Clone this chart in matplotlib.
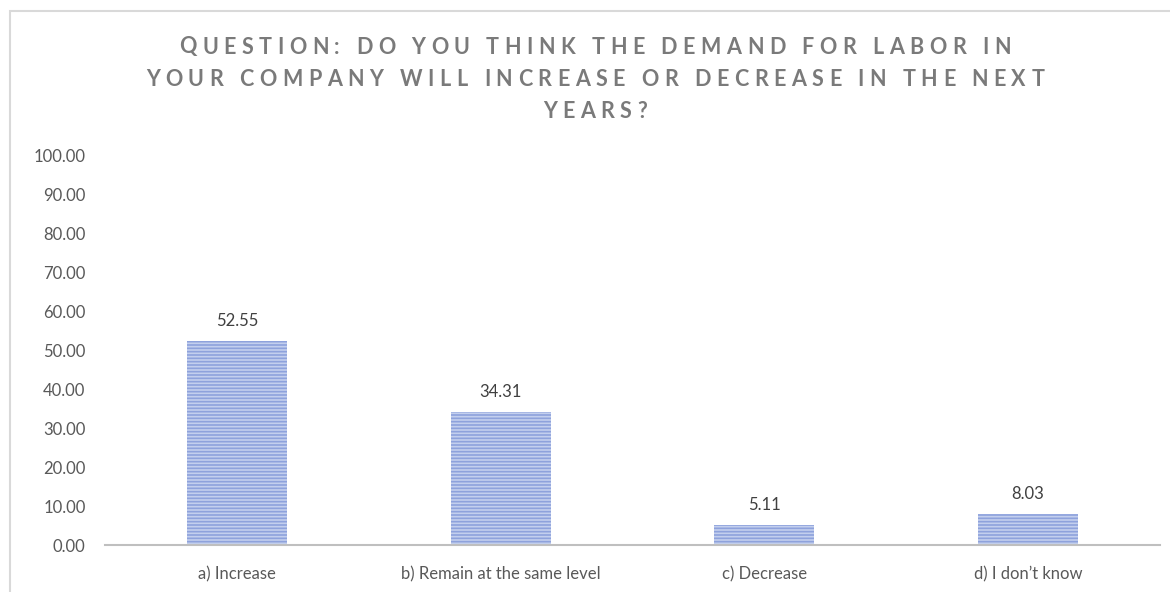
import matplotlib.pyplot as plt
from matplotlib.patches import Rectangle

categories = ["a) Increase", "b) Remain at the same level", "c) Decrease", "d) I don\u2019t know"]
shares = [52.55, 34.31, 5.11, 8.03]
y_ticks = [0, 10, 20, 30, 40, 50, 60, 70, 80, 90, 100]
title_lines = [
    "QUESTION: DO YOU THINK THE DEMAND FOR LABOR IN",
    "YOUR COMPANY WILL INCREASE OR DECREASE IN THE NEXT",
    "YEARS?",
]

plt.rcParams["font.family"] = ["Lato", "DejaVu Sans"]
plt.rcParams["hatch.linewidth"] = 1.2

W, H = 1170, 592
fig = plt.figure(figsize=(W / 100, H / 100), dpi=100)
ax = fig.add_axes([105 / W, 1 - 545 / H, 1055 / W, 389 / H])

# chart area frame (runs off the right and bottom edges)
fig.patches.append(Rectangle((10 / W, -0.05), 1.2, 1 - 11 / H + 0.05,
                             transform=fig.transFigure, fill=False,
                             edgecolor="#d9d9d9", linewidth=1.5))

x = range(len(categories))
bars = ax.bar(x, shares, width=0.38, color="#c3cfee", edgecolor="#8ea2dc",
              hatch="-----", linewidth=0, zorder=2)

for b, v in zip(bars, shares):
    ax.text(b.get_x() + b.get_width() / 2, v + 3.0, f"{v:.2f}",
            ha="center", va="bottom", fontsize=12, color="#404040")

ax.set_xlim(-0.5, len(categories) - 0.5)
ax.set_ylim(0, 100)
ax.set_yticks(y_ticks)
ax.set_yticklabels([f"{t:.2f}" for t in y_ticks])
ax.set_xticks(list(x))
ax.set_xticklabels(categories)
ax.tick_params(axis="both", length=0, labelsize=12, colors="#595959")
ax.tick_params(axis="y", pad=14)
ax.tick_params(axis="x", pad=15)

for side in ["top", "right", "left"]:
    ax.spines[side].set_visible(False)
ax.spines["bottom"].set_color("#bfbfbf")
ax.spines["bottom"].set_linewidth(1.5)

# letter-spaced title, laid out one character at a time in pixels
renderer = fig.canvas.get_renderer()
title_kw = dict(fontsize=15.5, fontweight="bold", color="#7a7a7a")


def char_width(ch):
    if ch == " ":
        t = fig.text(0, 0, "a a", **title_kw)
        w_full = t.get_window_extent(renderer).width
        t.set_text("aa")
        w = w_full - t.get_window_extent(renderer).width
    else:
        t = fig.text(0, 0, ch, **title_kw)
        w = t.get_window_extent(renderer).width
    t.remove()
    return w


tracking = 5.5
cx = 595
for i, line in enumerate(title_lines):
    widths = [char_width(c) for c in line]
    total = sum(widths) + tracking * (len(line) - 1)
    xpos = cx - total / 2
    ypos = H - (47 + i * 32.5)
    for c, w in zip(line, widths):
        if c != " ":
            fig.text(xpos / W, ypos / H, c, ha="left", va="center", **title_kw)
        xpos += w + tracking

fig.savefig("out.png", dpi=100)
